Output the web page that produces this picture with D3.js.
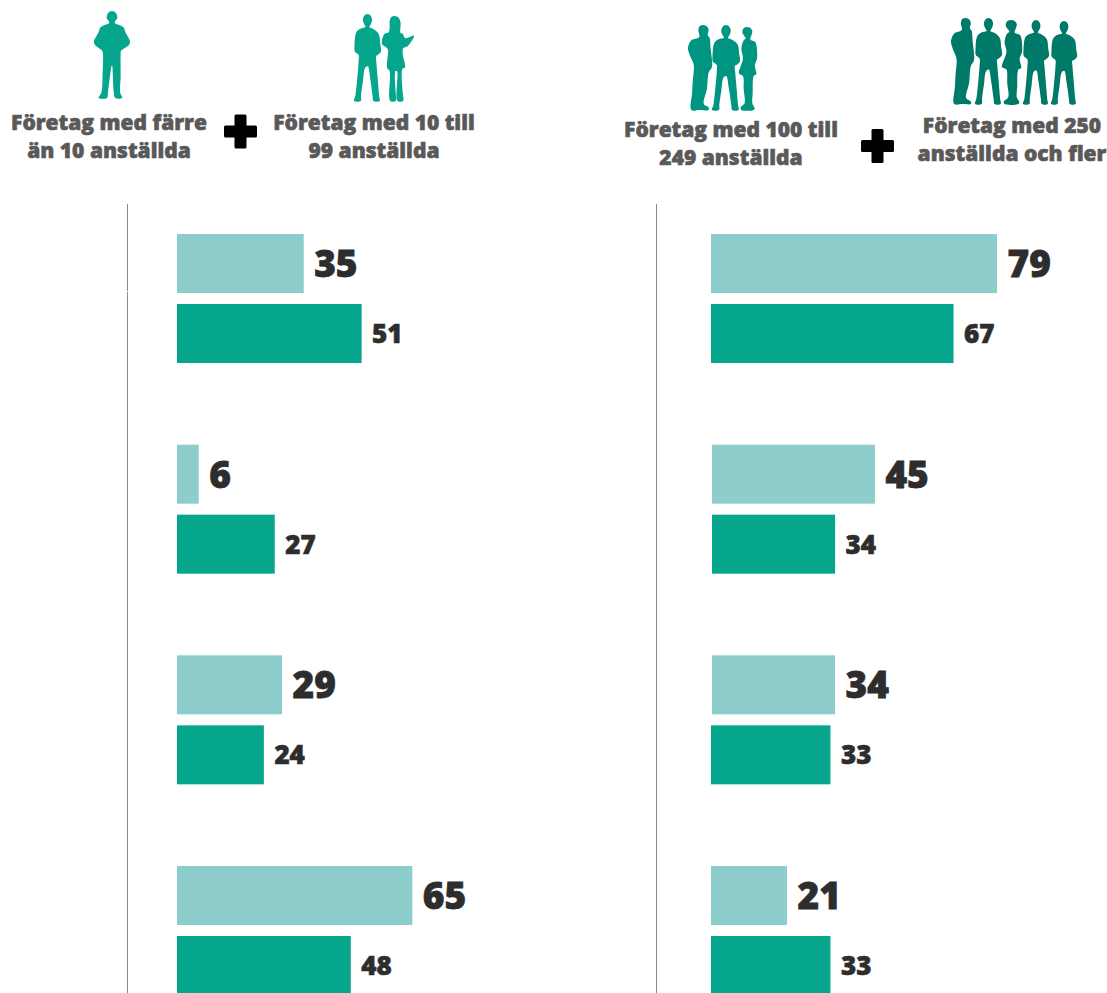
<!DOCTYPE html>
<html><head><meta charset="utf-8">
<script src="https://cdn.jsdelivr.net/npm/d3@7/dist/d3.min.js"></script>
<style>html,body{margin:0;padding:0;background:#fff;overflow:hidden}svg{display:block}text{font-family:"Open Sans",sans-serif;font-weight:800}</style>
</head><body><svg id="c" width="1107" height="993"></svg>
<script>
const rows = [0, 1, 2, 3];
const leftLight = [35, 6, 29, 65];
const leftDark = [51, 27, 24, 48];
const rightLight = [79, 45, 34, 21];
const rightDark = [67, 34, 33, 33];
const headers = [
  {lines:["Företag med färre","än 10 anställda"], cx:109, y:130},
  {lines:["Företag med 10 till","99 anställda"], cx:374, y:130},
  {lines:["Företag med 100 till","249 anställda"], cx:731, y:137},
  {lines:["Företag med 250","anställda och fler"], cx:1012, y:133}
];
const LIGHT="#8dcdcb", DARK="#05a68c", INK="#2d2d2d";
const svg=d3.select("#c");
const x=d3.scaleLinear().domain([0,100]).range([0,362]);
const y=d3.scaleLinear().domain([0,3]).range([234,866]);
const barH=59, gap=70;

function panel(axisX,segs,lx,dx,light,dark){
  svg.append("g").selectAll("line").data(segs).join("line")
    .attr("x1",axisX+.5).attr("x2",axisX+.5).attr("y1",d=>d[0]).attr("y2",d=>d[1]).attr("stroke","#8a8a8a");
  const g=svg.append("g");
  g.selectAll(".l").data(rows).join("rect").attr("x",d=>lx[d]).attr("y",d=>y(d)).attr("width",d=>x(light[d])).attr("height",barH).attr("fill",LIGHT);
  g.selectAll(".d").data(rows).join("rect").attr("x",d=>dx[d]).attr("y",d=>y(d)+gap).attr("width",d=>x(dark[d])).attr("height",barH).attr("fill",DARK);
  g.selectAll(".tl").data(rows).join("text").attr("x",d=>lx[d]+x(light[d])+10.5).attr("y",d=>y(d)+43).attr("font-size",37).attr("fill",INK).attr("stroke",INK).attr("stroke-width",.8).text(d=>light[d]);
  g.selectAll(".td").data(rows).join("text").attr("x",d=>dx[d]+x(dark[d])+10.5).attr("y",d=>y(d)+gap+39).attr("font-size",26).attr("fill",INK).attr("stroke",INK).attr("stroke-width",.6).text(d=>dark[d]);
}
panel(127,[[204,291],[292,993]],[177,177,177,177],[177,177,177,177],leftLight,leftDark);
panel(656,[[204,993]],[711,712,712,711],[711,712,711,711],rightLight,rightDark);

headers.forEach(h=>{
  svg.append("g").selectAll("text").data(h.lines).join("text")
    .attr("x",h.cx).attr("y",(d,i)=>h.y+i*28).attr("text-anchor","middle")
    .attr("font-size",21).attr("fill","#595959").attr("stroke","#595959").attr("stroke-width",.6).text(d=>d);
});

[[240.5,131.5],[877.5,146]].forEach(([cx,cy])=>{
  const p=svg.append("g").attr("transform",`translate(${cx},${cy})`);
  p.append("rect").attr("x",-16.5).attr("y",-6).attr("width",33).attr("height",12).attr("rx",1.5);
  p.append("rect").attr("x",-6).attr("y",-17).attr("width",12).attr("height",34).attr("rx",1.5);
});

// silhouette outlines, traced in a 100 x 100 box
const FRONT_MAN=[[50,0],[62,2],[67,7],[62,12],[57,15],[70,17],[84,20],[93,24],[97,34],[100,43],[88,47],[82,48],[83,56],[88,75],[93,94],[95,100],[72,100],[69,94],[60,74],[51,60],[41,62],[33,78],[26,94],[25,100],[0,100],[5,94],[12,74],[17,55],[17,47],[3,43],[2,36],[7,22],[17,18],[32,16],[43,15],[38,12],[33,7],[38,2]];
const SIDE_MAN=[[64,0],[80,2],[86,6],[82,12],[90,15],[94,27],[100,49],[86,56],[79,75],[66,93],[86,97],[86,100],[50,100],[14,100],[17,80],[20,65],[24,47],[8,36],[0,27],[14,18],[47,14],[43,6],[50,1]];
const WORKER=[[50,0],[60,2],[65,8],[60,11],[58,14],[70,16],[82,19],[88,25],[100,35],[97,39],[75,46],[74,50],[74,75],[73,94],[78,100],[59,100],[55,93],[50,62],[39,93],[36,100],[13,100],[21,93],[24,70],[25,50],[23,46],[3,39],[0,35],[12,25],[18,19],[30,16],[42,14],[40,11],[35,8],[40,2]];
const TAB_WOMAN=[[40,0],[52,2],[58,8],[58,20],[65,21],[72,26],[100,23],[79,36],[66,38],[65,45],[72,61],[64,62],[65,91],[66,100],[49,100],[47,65],[42,65],[43,91],[43,100],[26,100],[24,65],[16,61],[19,41],[16,38],[0,33],[8,21],[21,19],[24,12],[24,6],[30,1]];
const SIDE_WOMAN=[[41,0],[62,1],[74,5],[69,10],[63,15],[90,18],[97,22],[100,38],[88,46],[96,57],[82,59],[76,80],[74,92],[87,98],[82,100],[13,100],[9,97],[31,92],[26,75],[22,59],[0,56],[22,38],[13,26],[26,16],[37,14],[19,7],[24,2]];
const icons=[
  {p:WORKER,c:"#05a68c",x:94,y:11,w:36,h:87},
  {p:FRONT_MAN,c:"#05a68c",x:354,y:14,w:27,h:87},
  {p:TAB_WOMAN,c:"#05a68c",x:382,y:16,w:32,h:85},
  {p:SIDE_MAN,c:"#009580",x:688,y:25,w:24,h:85},
  {p:FRONT_MAN,c:"#009580",x:712,y:25,w:28,h:85},
  {p:SIDE_WOMAN,c:"#009580",x:739,y:27,w:18,h:83},
  {p:SIDE_MAN,c:"#007a68",x:951,y:18,w:23,h:86},
  {p:FRONT_MAN,c:"#007a68",x:975,y:18,w:27,h:86},
  {p:SIDE_WOMAN,c:"#007a68",x:1002,y:20,w:20,h:84},
  {p:FRONT_MAN,c:"#007a68",x:1023,y:20,w:26,h:84},
  {p:FRONT_MAN,c:"#007a68",x:1051,y:21,w:26,h:83}
];
const outline=d3.line().curve(d3.curveCatmullRomClosed.alpha(.5));
svg.append("g").selectAll("path").data(icons).join("path")
  .attr("d",d=>outline(d.p.map(([a,b])=>[d.x+a*d.w/100,d.y+b*d.h/100]))).attr("fill",d=>d.c);
</script></body></html>
